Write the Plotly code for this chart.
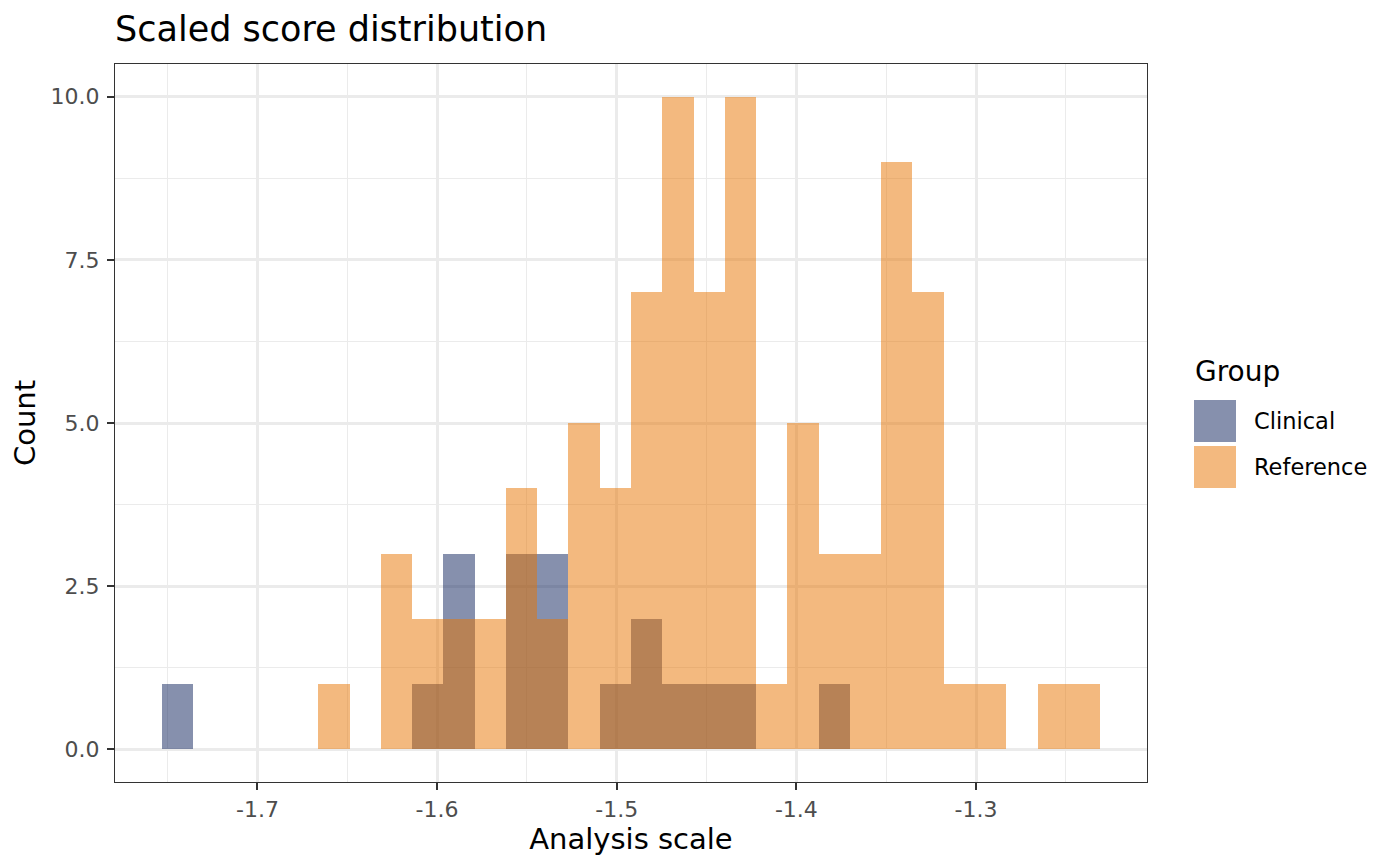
import plotly.graph_objects as go

# ---- data (histogram: 30 equal-width bins) ----
bin_start = -1.75317
bin_width = 0.017407
clinical_counts = [1, 0, 0, 0, 0, 0, 0, 0, 1, 3, 0, 3, 3, 0, 1,
                   2, 1, 1, 1, 0, 0, 1, 0, 0, 0, 0, 0, 0, 0, 0]
reference_counts = [0, 0, 0, 0, 0, 1, 0, 3, 2, 2, 2, 4, 2, 5, 4,
                    7, 10, 7, 10, 1, 5, 3, 3, 9, 7, 1, 1, 0, 1, 1]
groups = ["Clinical", "Reference"]
x_tick_vals = [-1.7, -1.6, -1.5, -1.4, -1.3]
x_tick_text = ["-1.7", "-1.6", "-1.5", "-1.4", "-1.3"]
x_minor_vals = [-1.75, -1.65, -1.55, -1.45, -1.35, -1.25]
y_tick_vals = [0, 2.5, 5, 7.5, 10]
y_tick_text = ["0.0", "2.5", "5.0", "7.5", "10.0"]
y_minor_vals = [1.25, 3.75, 6.25, 8.75]

colors = {"Clinical": "rgba(13,33,91,0.5)", "Reference": "rgba(231,115,0,0.5)"}

n_bins = len(clinical_counts)
centers = [bin_start + (i + 0.5) * bin_width for i in range(n_bins)]

fig = go.Figure()
for g, counts in zip(groups, [clinical_counts, reference_counts]):
    fig.add_trace(go.Bar(
        x=centers, y=counts, width=bin_width, name=g,
        marker=dict(color=colors[g], line=dict(width=0)),
        showlegend=False,
    ))

# ggplot-style 5% expansion
x_lo = bin_start
x_hi = bin_start + n_bins * bin_width
x_pad = 0.05 * (x_hi - x_lo)
y_max = max(max(clinical_counts), max(reference_counts))
y_pad = 0.05 * y_max

FONT = "DejaVu Sans"
OFF = 8  # default page body margin
W, H = 1400 - OFF, 866 - OFF
L, R, T, B = 115 - OFF, 253, 64 - OFF, 84
pw, ph = W - L - R, H - T - B


def px_x(p):
    return (p - OFF - L) / pw


def px_y(p):
    return (H - B - (p - OFF)) / ph


axis_common = dict(
    showline=True, mirror=True, linecolor="#333333", linewidth=1.4,
    ticks="outside", ticklen=7, tickwidth=2, tickcolor="#333333",
    showgrid=True, gridcolor="#EBEBEB", gridwidth=2.5,
    zeroline=False,
    tickfont=dict(family=FONT, size=22, color="#4D4D4D"),
)

fig.update_layout(
    width=W, height=H,
    margin=dict(l=L, r=R, t=T, b=B),
    paper_bgcolor="white", plot_bgcolor="white",
    barmode="overlay", bargap=0,
    font=dict(family=FONT, color="black"),
    title=dict(text="Scaled score distribution", x=0, xref="paper", xanchor="left",
               y=1 - (29 - OFF) / H, yref="container", yanchor="middle",
               font=dict(family=FONT, size=35, color="black")),
    xaxis=dict(
        range=[x_lo - x_pad, x_hi + x_pad],
        tickmode="array", tickvals=x_tick_vals, ticktext=x_tick_text,
        minor=dict(tickmode="array", tickvals=x_minor_vals, showgrid=True,
                   gridcolor="#EBEBEB", gridwidth=1.3, ticks=""),
        title=dict(text="Analysis scale", font=dict(family=FONT, size=29, color="black"),
                   standoff=0),
        **axis_common,
    ),
    yaxis=dict(
        range=[-y_pad, y_max + y_pad],
        tickmode="array", tickvals=y_tick_vals, ticktext=y_tick_text,
        minor=dict(tickmode="array", tickvals=y_minor_vals, showgrid=True,
                   gridcolor="#EBEBEB", gridwidth=1.3, ticks=""),
        ticklabelstandoff=3,
        title=dict(text="Count", font=dict(family=FONT, size=29, color="black"),
                   standoff=7),
        **axis_common,
    ),
)

# legend (ggplot-style, outside right)
fig.add_annotation(text="Group", xref="paper", yref="paper", x=px_x(1193), y=px_y(371),
                   xanchor="left", yanchor="middle", showarrow=False,
                   font=dict(family=FONT, size=28, color="black"))
key_tops = [400, 446]
for g, top in zip(groups, key_tops):
    fig.add_shape(type="rect", xref="paper", yref="paper",
                  x0=px_x(1194), x1=px_x(1236), y0=px_y(top + 42), y1=px_y(top),
                  fillcolor=colors[g], line=dict(width=0), layer="above")
    fig.add_annotation(text=g, xref="paper", yref="paper", x=px_x(1252), y=px_y(top + 21),
                       xanchor="left", yanchor="middle", showarrow=False,
                       font=dict(family=FONT, size=22.5, color="black"))

fig.write_html("out.html")
